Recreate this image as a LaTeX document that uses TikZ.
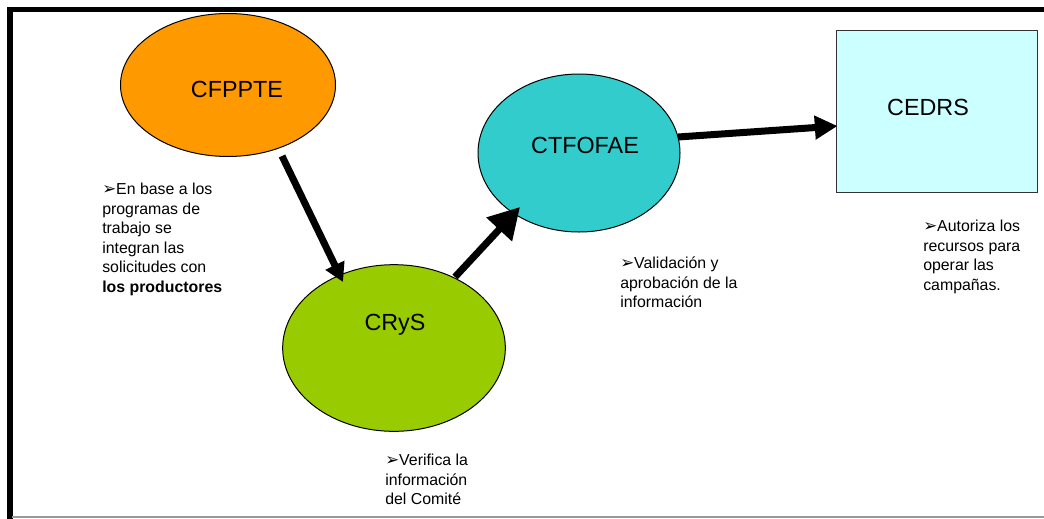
\documentclass[tikz,border=0pt]{standalone}
\usepackage{fontspec}
\setmainfont{Liberation Sans}
\newfontfamily\dejavu{DejaVu Sans}
\usetikzlibrary{shapes.geometric,arrows.meta,calc}
\definecolor{corange}{HTML}{FF9900}
\definecolor{cgreen}{HTML}{99CC00}
\definecolor{cteal}{HTML}{33CCCC}
\definecolor{ccyan}{HTML}{CCFFFF}
\newcommand{\bul}{{\dejavu\fontsize{12.5}{12}\selectfont ➢}}
\begin{document}
\begin{tikzpicture}[x=0.75pt,y=-0.75pt,
  ell/.style={ellipse,draw=black,line width=0.75pt,inner sep=0pt},
  big/.style={font=\fontsize{17.5}{21}\selectfont,inner sep=0pt},
  note/.style={anchor=north west,align=left,inner sep=0pt,font=\fontsize{11.9}{14.6}\selectfont},
  flow/.style={line width=5.25pt}]
\useasboundingbox (0,0) rectangle (1044,518);
% frame
\draw[line width=4pt,miter limit=10] (10,520) -- (10,9.5) -- (1046,9.5);
\draw[black!40,line width=0.9pt] (12,517) -- (1044,517);
% shapes
\node[ell,fill=corange,minimum width=161.25pt,minimum height=107.25pt] (cf) at (228,85) {};
\node[ell,fill=cgreen,minimum width=167pt,minimum height=125pt] (cr) at (394,348) {};
\node[ell,fill=cteal,minimum width=151.5pt,minimum height=118.5pt] (ct) at (579,153) {};
\node[draw=black!80,line width=0.75pt,fill=ccyan,minimum width=150.75pt,minimum height=121.5pt,inner sep=0pt] (ce) at (936.5,111) {};
% titles
\node[big] (cft) at (237,89) {CFPPTE};
\node[big] (crt) at (395,325) {CRyS};
\node[big] (ctt) at (585,145) {CTFOFAE};
\node[big] (cet) at (928,107) {CEDRS};
% arrows
\draw[flow,-{Triangle[length=14pt,width=15pt]}] ($(cf.center)+(54,71)$) -- ($(cr.center)+(-51,-66)$);
\draw[flow,-{Triangle[length=23pt,width=25pt]}] ($(cr.center)+(61,-71)$) -- ($(ct.center)+(-59,54)$);
\draw[flow,-{Triangle[length=17pt,width=17pt]}] ($(ct.center)+(99,-16)$) -- ($(ce.west)+(2,15)$);
% notes
\node[note] (n1) at (102,183) {\bul En base a los\\programas de\\trabajo se\\integran las\\solicitudes con\\\textbf{los productores}};
\node[note] (n2) at (385,454) {\bul Verifica la\\información\\del Comité};
\node[note] (n3) at (620,257) {\bul Validación y\\aprobación de la\\información};
\node[note] (n4) at (923,220) {\bul Autoriza los\\recursos para\\operar las\\campañas.};
\end{tikzpicture}
\end{document}
